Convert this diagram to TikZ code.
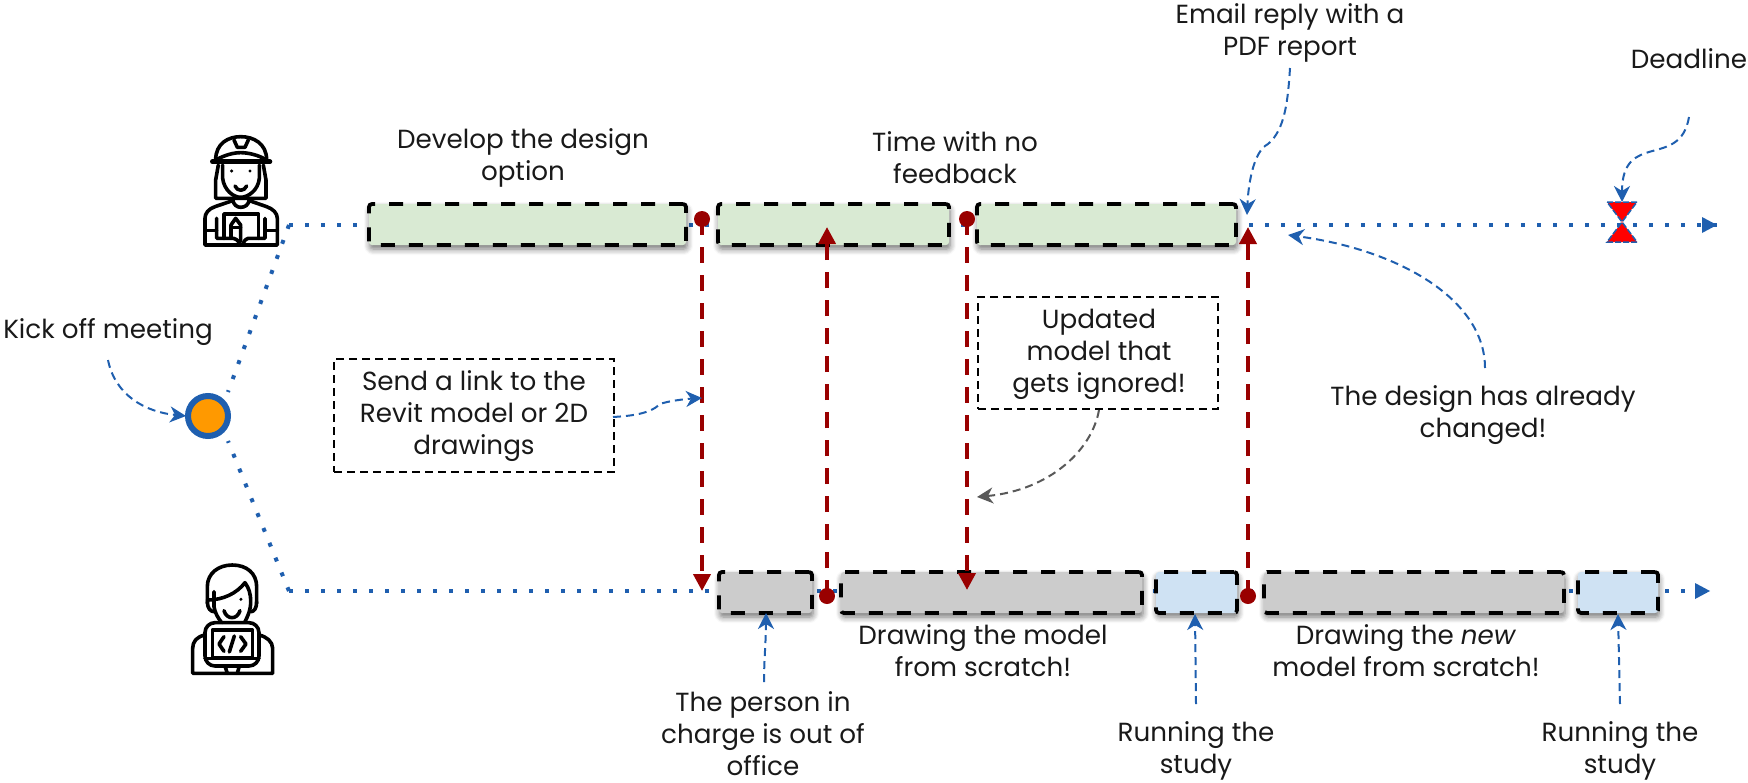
\documentclass[tikz,border=0pt]{standalone}
\usepackage{fontspec}
\setmainfont{Poppins}
\usetikzlibrary{shadows.blur,arrows.meta}
\definecolor{bl}{HTML}{1F5FAF}
\definecolor{rd}{HTML}{990000}
\definecolor{gr}{HTML}{D9EAD3}
\definecolor{gy}{HTML}{CCCCCC}
\definecolor{lb}{HTML}{CFE2F3}
\definecolor{dg}{HTML}{595959}
\definecolor{og}{HTML}{FF9900}
\tikzset{
 tx/.style={align=center,inner sep=0pt,font=\fontsize{26.2}{32}\selectfont,text=black!90},
 barbox/.style={draw=black,line width=3.8pt,dash pattern=on 14pt off 14pt,rounded corners=3pt,anchor=north west,inner sep=0pt,outer sep=0pt,
   blur shadow={shadow blur steps=6,shadow xshift=1pt,shadow yshift=-4pt,shadow blur radius=6pt,shadow opacity=55}},
 notebox/.style={draw=black,line width=1.7pt,dash pattern=on 8pt off 5pt,anchor=north west,inner sep=0pt,outer sep=0pt},
 dots/.style={draw=bl,line width=4pt,dash pattern=on 4pt off 12pt},
 redarr/.style={draw=rd,line width=4pt,dash pattern=on 16pt off 12pt,-{Triangle[length=17pt,width=17pt]}},
 reddot/.style={circle,fill=rd,inner sep=0pt,minimum size=16pt},
 callout/.style={draw=bl,line width=2pt,dash pattern=on 8pt off 5pt,-{Stealth[length=16pt,width=16pt,inset=5pt]}},
 calloutg/.style={draw=dg,line width=2pt,dash pattern=on 8pt off 5pt,-{Stealth[length=16pt,width=16pt,inset=5pt]}},
 ico/.style={line width=3.6pt,draw=black,line join=round,line cap=round},
}
\begin{document}
\begin{tikzpicture}[x=1pt,y=-1pt]
\useasboundingbox (0,0) rectangle (1748,782);
% free-end coordinates
\coordinate (topstart) at (289,225);
\coordinate (topend) at (1717,225);
\coordinate (botstart) at (289,591);
\coordinate (botend) at (1709,591);
% dotted lines
\node[circle,draw=bl,line width=6pt,minimum size=40pt,inner sep=0pt,fill=og] (kick) at (208,416) {};
\coordinate (kta) at (228,392);
\coordinate (kba) at (228,441);
\draw[dots] (topstart) -- (kta);
\draw[dots] (botstart) -- (kba);
\draw[dots] (topstart) -- (topend);
\draw[dots] (botstart) -- (botend);
\fill[bl] (1717,225) -- (1702,217) -- (1702,233) -- cycle;
\fill[bl] (1710,591) -- (1695,583) -- (1695,599) -- cycle;
% hourglass
\coordinate (hgt) at (1622,202);
\filldraw[fill=red,draw=bl,line width=1.5pt,dash pattern=on 6pt off 2pt] (1607,202) -- (1637,202) -- (1607,242) -- (1637,242) -- cycle;
% bars
\node[barbox,fill=gr,minimum width=317pt,minimum height=41pt] (g1) at (369,204) {};
\node[barbox,fill=gr,minimum width=231pt,minimum height=41pt] (g2) at (718,204) {};
\node[barbox,fill=gr,minimum width=259pt,minimum height=41pt] (g3) at (977,204) {};
\node[barbox,fill=gy,minimum width=93pt,minimum height=41pt] (c1) at (719,572) {};
\node[barbox,fill=gy,minimum width=301pt,minimum height=41pt] (c2) at (841,572) {};
\node[barbox,fill=lb,minimum width=81pt,minimum height=41pt] (b1) at (1156,572) {};
\node[barbox,fill=gy,minimum width=300pt,minimum height=41pt] (c3) at (1264,572) {};
\node[barbox,fill=lb,minimum width=80pt,minimum height=41pt] (b2) at (1578,572) {};
% red arrows
\node[reddot] (r1) at (702,219) {};
\node[reddot] (r2) at (827,596) {};
\node[reddot] (r3) at (967,219) {};
\node[reddot] (r4) at (1248,596) {};
\coordinate (r1e) at (702,591);
\coordinate (r2e) at (827,227);
\coordinate (r3e) at (967,590);
\coordinate (r4e) at (1248,227);
\draw[redarr] (r1.center) -- (r1e);
\draw[redarr] (r2.center) -- (r2e);
\draw[redarr] (r3.center) -- (r3e);
\draw[redarr] (r4.center) -- (r4e);
% text
\node[tx] (t1) at (108,332) {Kick off meeting};
\node[tx] (t2) at (523,158) {Develop the design\\option};
\node[tx] (t3) at (955,158) {Time with no\\feedback};
\node[tx] (t4) at (1290,33) {Email reply with a\\PDF report};
\node[tx] (t5) at (1689,59) {Deadline};
\node[notebox,minimum width=280pt,minimum height=113pt] (n1) at (334,359) {};
\node[tx] at ([yshift=-1pt]n1.center) (t6) {Send a link to the\\Revit model or 2D\\drawings};
\node[notebox,minimum width=240pt,minimum height=112pt] (n2) at (978,297) {};
\node[tx] at ([xshift=1pt,yshift=-1pt]n2.center) (t7) {Updated\\model that\\gets ignored!};
\node[tx] (t8) at (1483,415) {The design has already\\changed!};
\node[tx] (t9) at (983,651) {Drawing the model\\from scratch!};
\node[tx] (t10) at (1406,651) {Drawing the \textit{new}\\model from scratch!};
\node[tx] (t11) at (763,734) {The person in\\charge is out of\\office};
\node[tx] (t12) at (1196,751) {Running the\\study};
\node[tx] (t13) at (1620,751) {Running the\\study};
% callouts
\coordinate (a1) at (108,360);
\coordinate (a1e) at (186,416);
\draw[callout] (a1) .. controls (115,395) and (145,412) .. (a1e);
\coordinate (a2) at (613,417);
\coordinate (a2m) at (660,404);
\coordinate (a2e) at (702,398);
\draw[callout] (a2) .. controls (630,416) and (650,414) .. (a2m) .. controls (668,401) and (685,399) .. (a2e);
\coordinate (a3) at (1099,410);
\coordinate (a3e) at (977,497);
\draw[calloutg] (a3) .. controls (1092,450) and (1050,490) .. (a3e);
\coordinate (a4) at (1290,68);
\coordinate (a4m) at (1268,144);
\coordinate (a4e) at (1247,215);
\draw[callout] (a4) .. controls (1288,100) and (1285,130) .. (a4m) .. controls (1252,152) and (1248,190) .. (a4e);
\coordinate (a5) at (1689,117);
\coordinate (a5e) at (1622,202);
\draw[callout] (a5) .. controls (1680,170) and (1622,130) .. (a5e);
\coordinate (a6) at (1485,368);
\coordinate (a6e) at (1288,235);
\draw[callout] (a6) .. controls (1485,300) and (1400,250) .. (a6e);
\coordinate (a7) at (764,682);
\coordinate (a7e) at (766,613);
\draw[callout] (a7) .. controls (764,660) and (766,640) .. (a7e);
\coordinate (a8) at (1196,704);
\coordinate (a8e) at (1195,614);
\draw[callout] (a8) -- (a8e);
\coordinate (a9) at (1620,704);
\coordinate (a9e) at (1618,614);
\draw[callout] (a9) -- (a9e);
% engineer icon
\begin{scope}[shift={(150,110)},x=0.3333pt,y=-0.3333pt,ico]
\draw (197,150) .. controls (197,100) and (235,80) .. (272,80) .. controls (310,80) and (350,100) .. (350,150);
\draw[line width=4.6pt] (187,155) -- (360,155);
\draw (197,150) .. controls (225,135) and (250,128) .. (272,128) .. controls (295,128) and (325,135) .. (350,150);
\draw (252,90) -- (262,112) -- (285,112) -- (295,90);
\draw (205,165) -- (197,210) -- (197,265) -- (348,265) -- (348,210) -- (340,165);
\draw (218,165) -- (218,205) .. controls (222,240) and (250,262) .. (272,262) .. controls (295,262) and (325,240) .. (328,205) -- (328,165);
\draw (255,228) .. controls (262,245) and (283,245) .. (290,228);
\fill (245,183) circle (5);
\fill (300,183) circle (5);
\draw (248,268) .. controls (250,285) and (262,292) .. (272,292) .. controls (285,292) and (296,285) .. (298,268);
\draw (248,272) -- (195,290) .. controls (175,297) and (165,310) .. (165,325) -- (165,405) -- (382,405) -- (382,325) .. controls (382,310) and (370,297) .. (350,290) -- (298,272);
\draw (222,385) -- (222,312) -- (325,312) -- (325,385);
\draw (165,362) -- (200,362); \draw (345,362) -- (382,362);
\draw (200,325) -- (200,385) -- (250,385) .. controls (262,388) and (268,395) .. (268,405);
\draw (345,325) -- (345,385) -- (295,385) .. controls (285,388) and (280,395) .. (280,405);
\draw (243,385) -- (243,345) -- (257,325) -- (272,345) -- (272,395);
\draw (243,352) -- (272,352);
\end{scope}
% developer icon
\begin{scope}[shift={(150,540)},x=0.3333pt,y=-0.3333pt,ico]
\draw (172,190) -- (172,140) .. controls (172,100) and (205,75) .. (247,75) .. controls (290,75) and (320,100) .. (320,140) -- (320,190);
\draw (172,180) .. controls (220,180) and (260,160) .. (285,128) .. controls (297,145) and (302,160) .. (302,185) .. controls (302,210) and (295,225) .. (285,245);
\draw (192,155) -- (192,200) .. controls (195,220) and (205,235) .. (215,248);
\draw (172,185) .. controls (172,205) and (182,215) .. (192,215);
\draw (320,185) .. controls (320,205) and (312,215) .. (303,215);
\fill (273,178) circle (5);
\draw (222,212) .. controls (230,240) and (262,240) .. (270,212);
\draw[rounded corners=10] (165,248) rectangle (327,378);
\draw (187,270) rectangle (307,352);
\draw (165,355) -- (327,355);
\draw (222,290) -- (207,312) -- (222,334);
\draw (272,290) -- (288,312) -- (272,334);
\draw (253,288) -- (238,336);
\draw (165,285) .. controls (140,290) and (128,305) .. (128,325) -- (128,400) -- (368,400) -- (368,325) .. controls (368,305) and (350,290) .. (327,285);
\draw (225,378) -- (232,400); \draw (268,378) -- (262,400);
\end{scope}
\end{tikzpicture}
\end{document}
